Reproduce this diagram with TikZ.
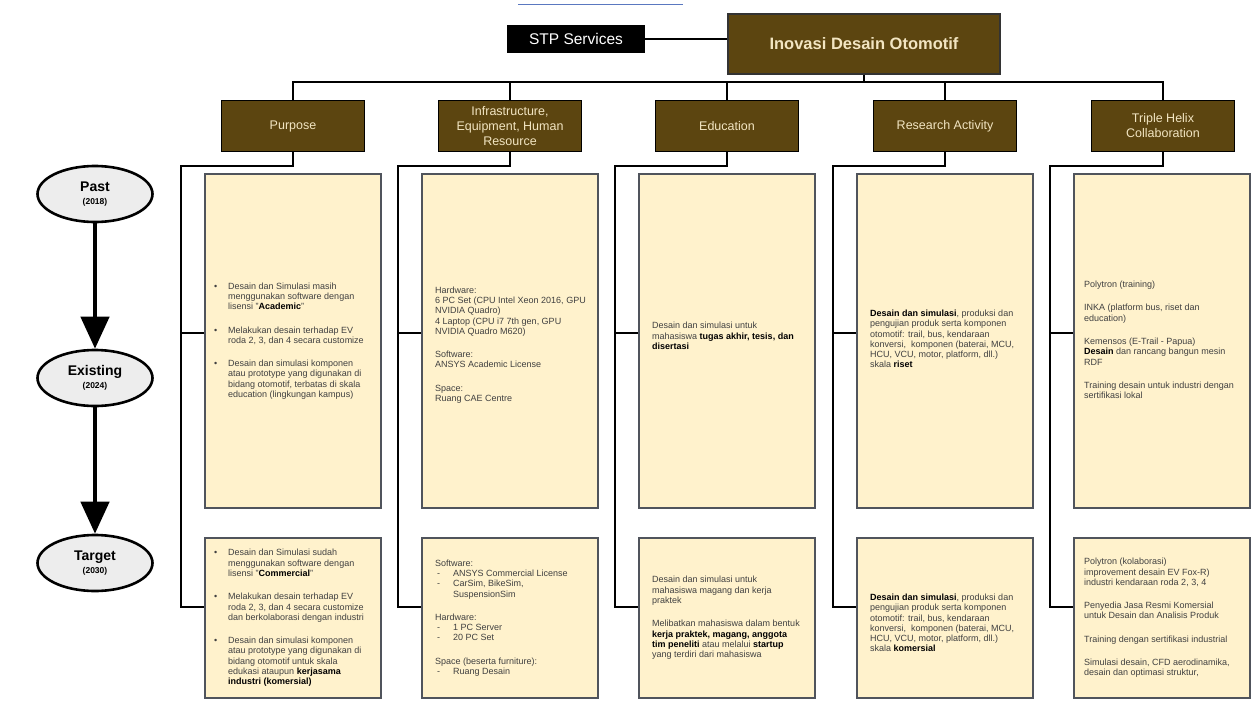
\documentclass[tikz,border=0pt]{standalone}
\usepackage{fontspec}
\setmainfont{Liberation Sans}
\usetikzlibrary{arrows.meta,shapes.geometric}

\definecolor{hdrbrown}{HTML}{5C4510}
\definecolor{hdrtext}{HTML}{F2E5C2}
\definecolor{cellfill}{HTML}{FFF2CC}
\definecolor{cellline}{HTML}{50545C}
\definecolor{bodytext}{HTML}{404040}
\definecolor{ovalfill}{HTML}{EDEDED}
\definecolor{topline}{HTML}{5A78C0}

% list helpers for the cell texts
\newcommand{\pbul}{\makebox[14pt][l]{\textbullet}}
\newcommand{\pind}{\hspace*{14pt}}
\newcommand{\dashitem}{\makebox[18pt][l]{\hspace*{2pt}-}}
\newcommand{\dashind}{\hspace*{18pt}}
\newcommand{\bt}[1]{{\bfseries\color{black}#1}}

\begin{document}
\begin{tikzpicture}[x=1pt,y=-1pt,
  wire/.style={draw=black,line width=1.6pt},
  hdr/.style={draw=black,line width=1.8pt,fill=hdrbrown,text=hdrtext,
    minimum width=143pt,minimum height=51pt,align=center,inner sep=0pt,
    font=\fontsize{12.5}{15}\selectfont},
  cell/.style={draw=cellline,line width=1.4pt,fill=cellfill,minimum width=176pt,inner sep=0pt},
  celltop/.style={cell,minimum height=334pt},
  cellbot/.style={cell,minimum height=160pt},
  body/.style={anchor=west,align=left,text=bodytext,inner sep=0pt,
    font=\fontsize{9}{10.3}\selectfont},
  era/.style={ellipse,draw=black,line width=2.6pt,fill=ovalfill,
    minimum width=115pt,minimum height=56pt,align=center,inner sep=0pt},
  flow/.style={line width=4.5pt,-{Triangle[length=32pt,width=28pt]}}
]
\useasboundingbox (0,0) rectangle (1254,702);

% thin rule along the top edge
\draw[topline,line width=1pt] (518,4) -- (683,4);

% title row
\node[draw=black,line width=1.5pt,fill=black,text=white,minimum width=136pt,minimum height=27pt,
  inner sep=0pt,font=\fontsize{15.5}{18}\selectfont] (stp) at (576,39) {STP Services};
\node[draw=black!80,line width=1.8pt,fill=hdrbrown,text=hdrtext,minimum width=272pt,minimum height=60pt,
  inner sep=0pt,font=\fontsize{16.5}{19}\selectfont\bfseries] (top) at (864,44) {Inovasi Desain Otomotif};
\draw[wire] (stp.east) -- (stp.east -| top.west);

% column headers
\node[hdr] (h1) at (293,126) {Purpose};
\node[hdr] (h2) at (510,126) {Infrastructure,\\Equipment, Human\\Resource};
\node[hdr] (h3) at (727,126) {Education};
\node[hdr] (h4) at (945,126) {Research Activity};
\node[hdr] (h5) at (1163,126) {Triple Helix\\Collaboration};

% distribution bus
\coordinate (busy) at (0,82);
\draw[wire] (top.south) -- (top.south |- busy);
\draw[wire] (h1.north) |- (h5.north |- busy) -- (h5.north);
\foreach \h in {h2,h3,h4} \draw[wire] (\h.north) -- (\h.north |- busy);

% cells
\foreach \i/\x in {1/293,2/510,3/727,4/945,5/1162}{
  \node[celltop] (t\i) at (\x,341) {};
  \node[cellbot] (b\i) at (\x,618) {};
  \coordinate (k\i) at (\x-112,166);
  \coordinate (m\i) at (\x-112,333);
  \coordinate (n\i) at (\x-112,607);
  \draw[wire] (h\i.south) |- (k\i) -- (n\i) -- (b\i.west |- n\i);
  \draw[wire] (m\i) -- (t\i.west |- m\i);
}

% Purpose
\node[body] (p1) at (214,341) {%
\pbul Desain dan Simulasi masih\\
\pind menggunakan software dengan\\
\pind lisensi "\bt{Academic}"\\[13pt]
\pbul Melakukan desain terhadap EV\\
\pind roda 2, 3, dan 4 secara customize\\[13pt]
\pbul Desain dan simulasi komponen\\
\pind atau prototype yang digunakan di\\
\pind bidang otomotif, terbatas di skala\\
\pind education (lingkungan kampus)};
\node[body] (p2) at (214,618) {%
\pbul Desain dan Simulasi sudah\\
\pind menggunakan software dengan\\
\pind lisensi "\bt{Commercial}"\\[13pt]
\pbul Melakukan desain terhadap EV\\
\pind roda 2, 3, dan 4 secara customize\\
\pind dan berkolaborasi dengan industri\\[13pt]
\pbul Desain dan simulasi komponen\\
\pind atau prototype yang digunakan di\\
\pind bidang otomotif untuk skala\\
\pind edukasi ataupun \bt{kerjasama}\\
\pind \bt{industri (komersial)}};

% Infrastructure
\node[body] (i1) at (435,345) {%
Hardware:\\
6 PC Set (CPU Intel Xeon 2016, GPU\\
NVIDIA Quadro)\\
4 Laptop (CPU i7 7th gen, GPU\\
NVIDIA Quadro M620)\\[13pt]
Software:\\
ANSYS Academic License\\[13pt]
Space:\\
Ruang CAE Centre};
\node[body] (i2) at (435,618) {%
Software:\\
\dashitem ANSYS Commercial License\\
\dashitem CarSim, BikeSim,\\
\dashind SuspensionSim\\[13pt]
Hardware:\\
\dashitem 1 PC Server\\
\dashitem 20 PC Set\\[13pt]
Space (beserta furniture):\\
\dashitem Ruang Desain};

% Education
\node[body] (e1) at (652,336) {%
Desain dan simulasi untuk\\
mahasiswa \bt{tugas akhir, tesis, dan}\\
\bt{disertasi}};
\node[body] (e2) at (652,618) {%
Desain dan simulasi untuk\\
mahasiswa magang dan kerja\\
praktek\\[13pt]
Melibatkan mahasiswa dalam bentuk\\
\bt{kerja praktek, magang, anggota}\\
\bt{tim peneliti} atau melalui \bt{startup}\\
yang terdiri dari mahasiswa};

% Research
\node[body] (r1) at (870,339) {%
\bt{Desain dan simulasi}, produksi dan\\
pengujian produk serta komponen\\
otomotif: trail, bus, kendaraan\\
konversi,\ \ komponen (baterai, MCU,\\
HCU, VCU, motor, platform, dll.)\\
skala \bt{riset}};
\node[body] (r2) at (870,623) {%
\bt{Desain dan simulasi}, produksi dan\\
pengujian produk serta komponen\\
otomotif: trail, bus, kendaraan\\
konversi,\ \ komponen (baterai, MCU,\\
HCU, VCU, motor, platform, dll.)\\
skala \bt{komersial}};

% Triple Helix
\node[body] (x1) at (1084,340) {%
Polytron (training)\\[13pt]
INKA (platform bus, riset dan\\
education)\\[13pt]
Kemensos (E-Trail - Papua)\\
\bt{Desain} dan rancang bangun mesin\\
RDF\\[13pt]
Training desain untuk industri dengan\\
sertifikasi lokal};
\node[body] (x2) at (1084,618) {%
Polytron (kolaborasi)\\
improvement desain EV Fox-R)\\
industri kendaraan roda 2, 3, 4\\[13pt]
Penyedia Jasa Resmi Komersial\\
untuk Desain dan Analisis Produk\\[13pt]
Training dengan sertifikasi industrial\\[13pt]
Simulasi desain, CFD aerodinamika,\\
desain dan optimasi struktur,};

% timeline
\node[era] (past) at (95,194) {{\fontsize{14}{16}\selectfont\bfseries Past}\\[1pt]{\fontsize{8.5}{10}\selectfont\bfseries (2018)}};
\node[era] (now) at (95,378) {{\fontsize{14}{16}\selectfont\bfseries Existing}\\[1pt]{\fontsize{8.5}{10}\selectfont\bfseries (2024)}};
\node[era] (goal) at (95,563) {{\fontsize{14}{16}\selectfont\bfseries Target}\\[1pt]{\fontsize{8.5}{10}\selectfont\bfseries (2030)}};
\draw[flow] (past.south) -- (now.north);
\draw[flow] (now.south) -- (goal.north);
\end{tikzpicture}
\end{document}
